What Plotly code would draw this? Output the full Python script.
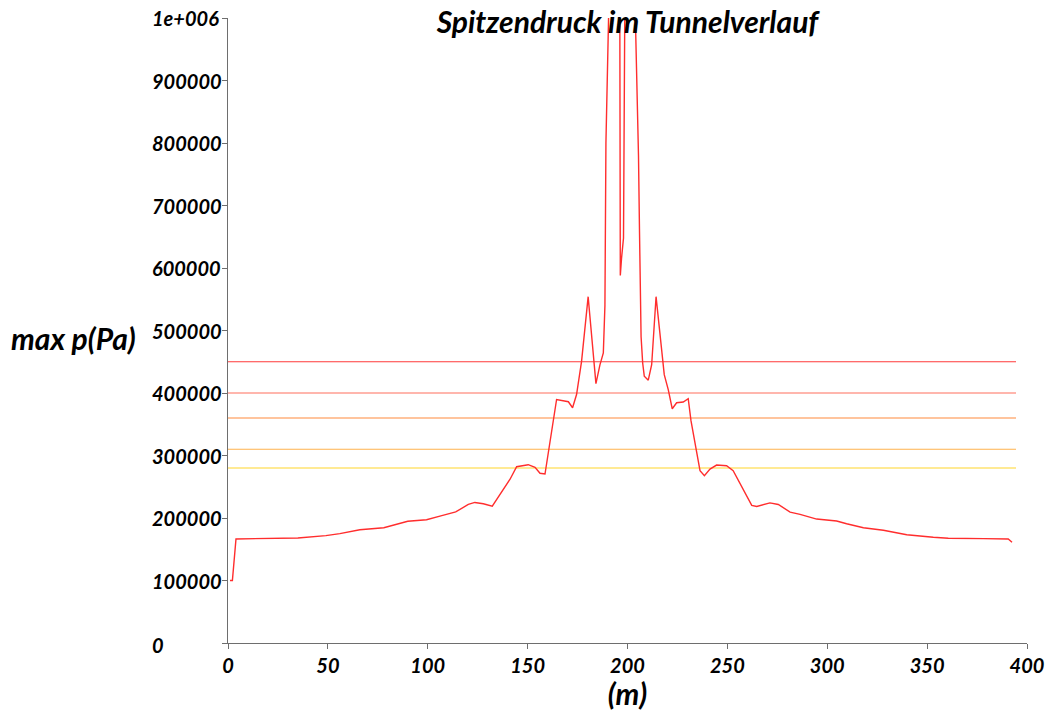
import plotly.graph_objects as go

# Peak pressure along the tunnel (position in m, pressure in Pa)
position_m = [
    1.0, 2.2, 4.0, 35.0, 49.0, 56.0, 66.0, 78.0, 90.0, 99.4, 106.1, 114.0,
    120.3, 123.6, 127.8, 132.3, 141.2, 144.5, 150.3, 153.7, 156.2, 158.7,
    164.5, 170.4, 172.5, 174.5, 177.0, 180.3, 184.2, 186.2, 187.9, 188.7,
    189.2, 190.0, 192.5, 196.1, 196.4, 197.0, 198.0, 198.8, 201.0, 203.8,
    204.3, 205.0, 205.5, 206.0, 206.4, 206.8, 207.6, 208.4, 210.4, 212.1,
    214.3, 216.3, 218.4, 220.4, 222.4, 224.6, 227.9, 230.4, 231.8, 236.3,
    238.5, 241.3, 244.6, 249.6, 252.9, 262.2, 264.7, 271.3, 275.5, 281.4,
    286.4, 294.7, 304.7, 309.7, 318.1, 328.1, 339.8, 353.1, 360.6, 378.2,
    390.6, 392.5,
]
peak_pressure_pa = [
    100000, 100000, 166500, 168000, 171800, 175000, 181300, 184500, 194700,
    197200, 203000, 209700, 221700, 224900, 222700, 219000, 262000, 282100,
    285300, 281000, 271500, 270400, 389600, 386000, 376400, 397600, 450700,
    554100, 415000, 445000, 464000, 540000, 800000, 935000, 1300000, 1100000,
    588000, 615000, 648000, 1100000, 1300000, 1020000, 950000, 870000,
    780000, 660000, 560000, 490000, 448000, 427000, 420500, 445300, 554100,
    487700, 429400, 405500, 374800, 384400, 385500, 390800, 355300, 275800,
    267800, 278300, 284700, 283700, 275800, 220100, 218500, 224200, 221700,
    209400, 205800, 198300, 195100, 190800, 184500, 180300, 173300, 169200,
    167600, 167000, 166500, 161300,
]

# Horizontal reference levels (Pa) and their colours
limit_levels_pa = [450000, 400000, 360000, 310000, 280000]
limit_colors = ["#ff3a3a", "#ff6e5c", "#ff8a3c", "#ffb24c", "#ffd52a"]
limit_extent_m = [0.0, 394.5]

# Axis ticks
x_ticks = [0, 50, 100, 150, 200, 250, 300, 350, 400]
y_ticks = [0, 100000, 200000, 300000, 400000, 500000, 600000, 700000, 800000, 900000, 1000000]
y_tick_text = ["0", "100000", "200000", "300000", "400000", "500000",
               "600000", "700000", "800000", "900000", "1e+006"]

FONT = "Lato"
label_font = dict(family=FONT, size=20, color="black", weight="bold", style="italic")
title_font = dict(family=FONT, size=30, color="black", weight="bold", style="italic")

fig = go.Figure()

for level, color in zip(limit_levels_pa, limit_colors):
    fig.add_trace(go.Scatter(
        x=limit_extent_m, y=[level, level], mode="lines",
        line=dict(color=color, width=1.2), hoverinfo="skip", showlegend=False,
    ))

fig.add_trace(go.Scatter(
    x=position_m, y=peak_pressure_pa, mode="lines",
    line=dict(color="rgb(255,45,45)", width=1.4), showlegend=False,
))

# Left-aligned y tick labels
for val, txt in zip(y_ticks, y_tick_text):
    fig.add_annotation(
        x=0, xref="paper", xanchor="left", xshift=-78,
        y=val, yref="y", yanchor="middle", yshift=-2 if val == 0 else 0,
        text=txt, showarrow=False, font=label_font,
    )

# Vertical-axis caption, written horizontally at the left edge
fig.add_annotation(
    x=0, xref="paper", xanchor="right", xshift=-90,
    y=0.488, yref="paper", yanchor="middle",
    text="max p(Pa)", showarrow=False, font=title_font,
)

fig.update_layout(
    width=1058, height=711,
    margin=dict(l=228, r=31, t=18, b=64),
    paper_bgcolor="white", plot_bgcolor="white",
    title=dict(
        text="Spitzendruck im Tunnelverlauf", font=title_font,
        x=0.5, xref="paper", xanchor="center",
        y=1 - 22 / 711, yref="container", yanchor="middle",
    ),
    xaxis=dict(
        range=[0, 400], tickvals=x_ticks, ticktext=[str(v) for v in x_ticks],
        showgrid=False, zeroline=False, showline=True, linecolor="#6e6e6e", linewidth=1,
        ticks="outside", ticklen=5, tickcolor="#6e6e6e", tickfont=label_font,
        title=dict(text="(m)", font=title_font, standoff=1),
    ),
    yaxis=dict(
        range=[0, 1000000], tickvals=y_ticks, showticklabels=False,
        showgrid=False, zeroline=False, showline=True, linecolor="#6e6e6e", linewidth=1,
        ticks="outside", ticklen=5, tickcolor="#6e6e6e",
    ),
)

fig.write_html("out.html")
